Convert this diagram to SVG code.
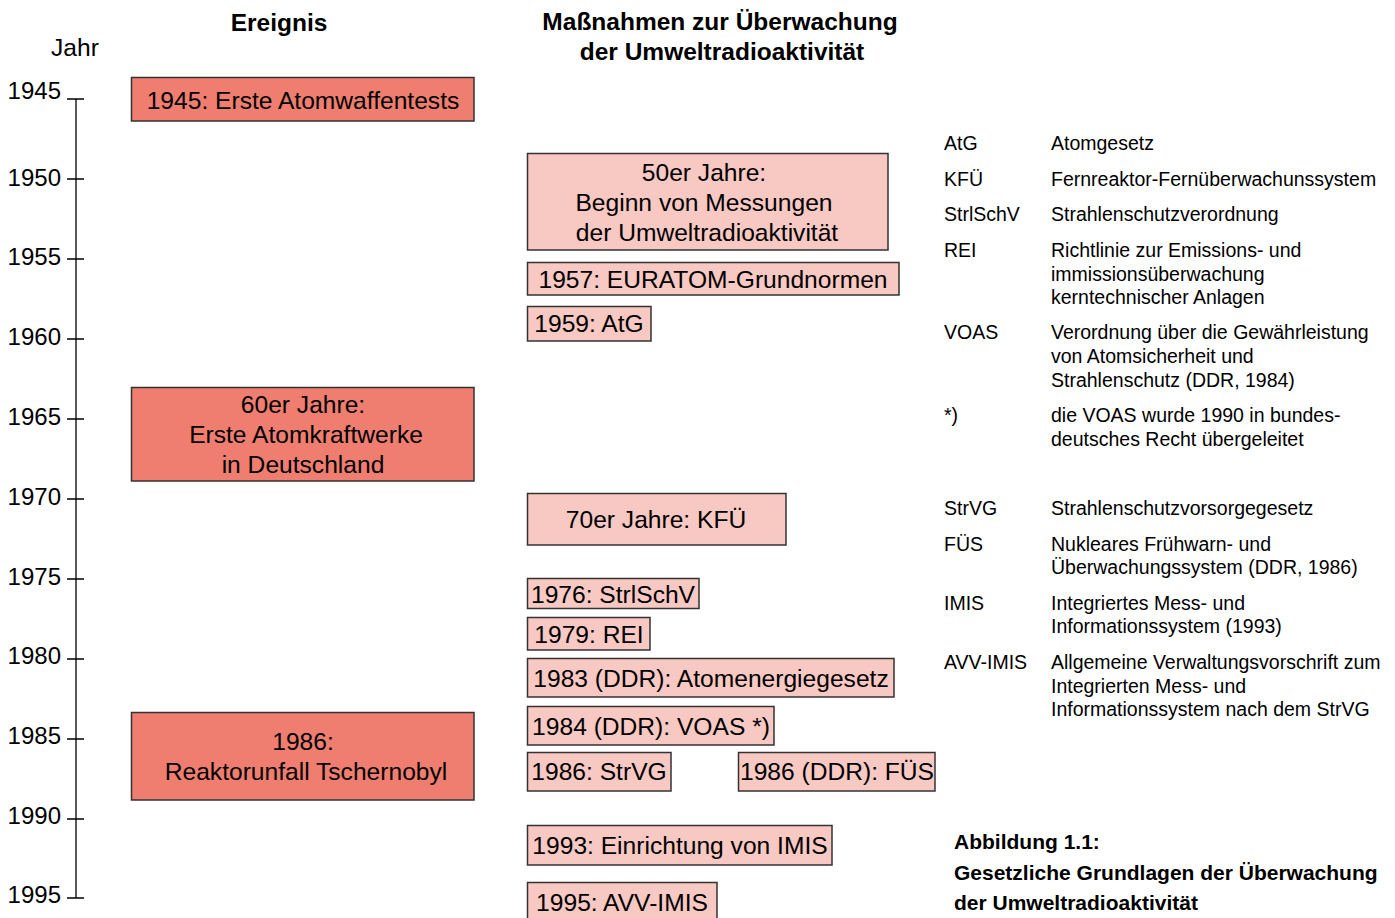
<svg xmlns="http://www.w3.org/2000/svg" width="1395" height="918" viewBox="0 0 1395 918">
<style>
text{font-family:"Liberation Sans",Arial,sans-serif;fill:#000}
.t{font-size:24.6px}
.h{font-size:24.5px;font-weight:bold}
.c{text-anchor:middle}
.y{font-size:24px;text-anchor:end}
.l{font-size:19.5px}
.cap{font-size:21px;font-weight:bold}
.ev{fill:#F07E70;stroke:#333;stroke-width:1.5}
.ms{fill:#F8C8C2;stroke:#333;stroke-width:1.5}
.ax{stroke:#000;stroke-width:1.3;fill:none}
</style>
<rect width="1395" height="918" fill="#fff"/>
<g id="headers">
<text class="h c" x="279" y="31">Ereignis</text>
<text class="t" x="51" y="56">Jahr</text>
<text class="h c" x="720" y="30">Maßnahmen zur Überwachung</text>
<text class="h c" x="722" y="60">der Umweltradioaktivität</text>
</g>
<g id="axis">
<path class="ax" d="M76 99V898M67 99H84M67 179H84M67 259H84M67 339H84M67 419H84M67 499H84M67 579H84M67 659H84M67 739H84M67 819H84M67 898H84"/>
<text class="y" x="61" y="99">1945</text>
<text class="y" x="61" y="186">1950</text>
<text class="y" x="61" y="265">1955</text>
<text class="y" x="61" y="345">1960</text>
<text class="y" x="61" y="425">1965</text>
<text class="y" x="61" y="505">1970</text>
<text class="y" x="61" y="585">1975</text>
<text class="y" x="61" y="664">1980</text>
<text class="y" x="61" y="744">1985</text>
<text class="y" x="61" y="824">1990</text>
<text class="y" x="61" y="903">1995</text>
</g>
<g id="connectors"></g>
<g id="ev1945"><rect class="ev" x="131.5" y="77.5" width="342.5" height="43.5"/><text class="t c" x="303" y="109">1945: Erste Atomwaffentests</text></g>
<g id="ev1960s"><rect class="ev" x="131.5" y="387.5" width="342.5" height="93.5"/><text class="t c" x="303" y="413">60er Jahre:</text><text class="t c" x="306" y="443">Erste Atomkraftwerke</text><text class="t c" x="303" y="473">in Deutschland</text></g>
<g id="ev1986"><rect class="ev" x="131.5" y="712.5" width="342.5" height="87.5"/><text class="t c" x="303" y="750">1986:</text><text class="t c" x="306" y="780">Reaktorunfall Tschernobyl</text></g>
<g id="m1950s"><rect class="ms" x="527.5" y="153.5" width="360.5" height="96.5"/><text class="t c" x="704" y="181">50er Jahre:</text><text class="t c" x="704" y="211">Beginn von Messungen</text><text class="t c" x="707" y="241">der Umweltradioaktivität</text></g>
<g id="m1957"><rect class="ms" x="527.5" y="262.5" width="371.5" height="32.5"/><text class="t c" x="713" y="288">1957: EURATOM-Grundnormen</text></g>
<g id="m1959"><rect class="ms" x="527.5" y="306.5" width="123.5" height="34.5"/><text class="t c" x="589" y="332">1959: AtG</text></g>
<g id="m1970s"><rect class="ms" x="527.5" y="493.5" width="258.5" height="51.5"/><text class="t c" x="656" y="528">70er Jahre: KFÜ</text></g>
<g id="m1976"><rect class="ms" x="527.5" y="578.5" width="171.5" height="30"/><text class="t c" x="613" y="603">1976: StrlSchV</text></g>
<g id="m1979"><rect class="ms" x="527.5" y="617.5" width="122.5" height="32.5"/><text class="t c" x="589" y="643">1979: REI</text></g>
<g id="m1983"><rect class="ms" x="527.5" y="658.5" width="366.5" height="38.5"/><text class="t c" x="711" y="687">1983 (DDR): Atomenergiegesetz</text></g>
<g id="m1984"><rect class="ms" x="527.5" y="706.5" width="246.5" height="38.5"/><text class="t c" x="651" y="735">1984 (DDR): VOAS *)</text></g>
<g id="m1986a"><rect class="ms" x="527.5" y="752.5" width="143.5" height="38.5"/><text class="t c" x="599" y="780">1986: StrVG</text></g>
<g id="m1986b"><rect class="ms" x="738.5" y="752.5" width="196.5" height="38.5"/><text class="t c" x="837" y="780">1986 (DDR): FÜS</text></g>
<g id="m1993"><rect class="ms" x="527.5" y="825.5" width="304.5" height="39.5"/><text class="t c" x="680" y="854">1993: Einrichtung von IMIS</text></g>
<g id="m1995"><rect class="ms" x="527.5" y="882.5" width="189.5" height="45"/><text class="t c" x="622" y="911">1995: AVV-IMIS</text></g>
<g id="legend">
<text class="l" x="944" y="150">AtG</text><text class="l" x="1051" y="150">Atomgesetz</text>
<text class="l" x="944" y="186">KFÜ</text><text class="l" x="1051" y="186">Fernreaktor-Fernüberwachunssystem</text>
<text class="l" x="944" y="221">StrlSchV</text><text class="l" x="1051" y="221">Strahlenschutzverordnung</text>
<text class="l" x="944" y="257">REI</text><text class="l" x="1051" y="257">Richtlinie zur Emissions- und</text>
<text class="l" x="1051" y="281">immissionsüberwachung</text>
<text class="l" x="1051" y="304">kerntechnischer Anlagen</text>
<text class="l" x="944" y="339">VOAS</text><text class="l" x="1051" y="339">Verordnung über die Gewährleistung</text>
<text class="l" x="1051" y="363">von Atomsicherheit und</text>
<text class="l" x="1051" y="387">Strahlenschutz (DDR, 1984)</text>
<text class="l" x="944" y="422">*)</text><text class="l" x="1051" y="422">die VOAS wurde 1990 in bundes-</text>
<text class="l" x="1051" y="446">deutsches Recht übergeleitet</text>
<text class="l" x="944" y="515">StrVG</text><text class="l" x="1051" y="515">Strahlenschutzvorsorgegesetz</text>
<text class="l" x="944" y="551">FÜS</text><text class="l" x="1051" y="551">Nukleares Frühwarn- und</text>
<text class="l" x="1051" y="574">Überwachungssystem (DDR, 1986)</text>
<text class="l" x="944" y="610">IMIS</text><text class="l" x="1051" y="610">Integriertes Mess- und</text>
<text class="l" x="1051" y="633">Informationssystem (1993)</text>
<text class="l" x="944" y="669">AVV-IMIS</text><text class="l" x="1051" y="669">Allgemeine Verwaltungsvorschrift zum</text>
<text class="l" x="1051" y="693">Integrierten Mess- und</text>
<text class="l" x="1051" y="716">Informationssystem nach dem StrVG</text>
</g>
<g id="caption">
<text class="cap" x="954" y="849">Abbildung 1.1:</text>
<text class="cap" x="954" y="880">Gesetzliche Grundlagen der Überwachung</text>
<text class="cap" x="954" y="910">der Umweltradioaktivität</text>
</g>
</svg>
